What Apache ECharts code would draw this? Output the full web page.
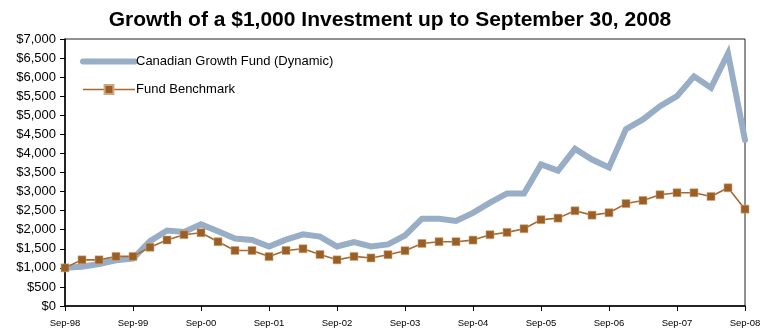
<!DOCTYPE html>
<html>
<head>
<meta charset="utf-8">
<script src="https://cdn.jsdelivr.net/npm/echarts@6/dist/echarts.min.js"></script>
<style>
  html, body { margin: 0; padding: 0; background: #fff; }
  #chart { width: 780px; height: 332px; }
</style>
</head>
<body>
<div id="chart"></div>
<script>
// Quarter-end dates, Sep 1998 through Sep 2008
const quarters = [
  'Sep-98','Dec-98','Mar-99','Jun-99',
  'Sep-99','Dec-99','Mar-00','Jun-00',
  'Sep-00','Dec-00','Mar-01','Jun-01',
  'Sep-01','Dec-01','Mar-02','Jun-02',
  'Sep-02','Dec-02','Mar-03','Jun-03',
  'Sep-03','Dec-03','Mar-04','Jun-04',
  'Sep-04','Dec-04','Mar-05','Jun-05',
  'Sep-05','Dec-05','Mar-06','Jun-06',
  'Sep-06','Dec-06','Mar-07','Jun-07',
  'Sep-07','Dec-07','Mar-08','Jun-08',
  'Sep-08'
];

// Value of $1,000 invested, by quarter
const fundValues = [
  1000, 1030, 1100, 1200, 1240, 1700, 1980, 1940, 2140, 1960,
  1770, 1730, 1560, 1740, 1880, 1820, 1560, 1675, 1560, 1615,
  1850, 2290, 2290, 2230, 2440, 2710, 2950, 2950, 3710, 3550,
  4120, 3840, 3630, 4640, 4890, 5240, 5500, 6020, 5720, 6620,
  4350
];

const benchmarkValues = [
  1000, 1210, 1210, 1300, 1300, 1540, 1730, 1870, 1920, 1685,
  1455, 1455, 1295, 1455, 1500, 1350, 1210, 1300, 1260, 1345,
  1450, 1640, 1686, 1686, 1728, 1869, 1930, 2026, 2262, 2304,
  2497, 2382, 2445, 2685, 2767, 2916, 2969, 2969, 2872, 3099,
  2539
];

const seriesNames = ['Canadian Growth Fund (Dynamic)', 'Fund Benchmark'];
const titleText = 'Growth of a $1,000 Investment up to September 30, 2008';

const FONT = '"Liberation Sans", Arial, sans-serif';
const FUND_COLOR = '#98AEC6';
const BENCH_LINE = '#A8692E';
const BENCH_MARK = '#9B5F25';

const chart = echarts.init(document.getElementById('chart'), null, { renderer: 'canvas' });

chart.setOption({
  animation: false,
  backgroundColor: '#ffffff',
  title: {
    text: titleText,
    left: 'center',
    top: 5,
    textStyle: { fontFamily: FONT, fontSize: 21, fontWeight: 'bold', color: '#000' }
  },
  legend: {
    orient: 'vertical',
    left: 75,
    top: 50,
    itemWidth: 52,
    itemHeight: 11,
    itemGap: 15,
    data: [
      {
        name: seriesNames[0],
        itemStyle: { opacity: 0 },
        lineStyle: { color: FUND_COLOR, width: 6, cap: 'round' }
      },
      {
        name: seriesNames[1],
        lineStyle: { color: BENCH_LINE, width: 1.6 }
      }
    ],
    textStyle: { fontFamily: FONT, fontSize: 13, color: '#000', padding: [0, 0, 0, -4] }
  },
  grid: {
    left: 65,
    right: 35,
    top: 39,
    bottom: 26,
    show: true,
    borderColor: '#222',
    borderWidth: 1,
    backgroundColor: 'transparent'
  },
  xAxis: {
    type: 'category',
    data: quarters,
    boundaryGap: false,
    axisLine: { lineStyle: { color: '#000', width: 1.5 } },
    axisTick: { interval: 3, length: 5, lineStyle: { color: '#000' } },
    axisLabel: {
      interval: 3,
      margin: 12,
      fontFamily: FONT,
      fontSize: 9.5,
      color: '#000'
    },
    splitLine: { show: false }
  },
  yAxis: {
    type: 'value',
    min: 0,
    max: 7000,
    interval: 500,
    axisLine: { show: true, lineStyle: { color: '#000', width: 1.5 } },
    axisTick: { show: true, length: 5, lineStyle: { color: '#000' } },
    axisLabel: {
      margin: 9,
      fontFamily: FONT,
      fontSize: 13,
      color: '#000',
      formatter: v => '$' + v.toLocaleString('en-US')
    },
    splitLine: { show: false }
  },
  series: [
    {
      name: seriesNames[0],
      type: 'line',
      data: fundValues,
      showSymbol: false,
      symbol: 'none',
      lineStyle: { color: FUND_COLOR, width: 6, cap: 'round', join: 'miter' },
      itemStyle: { color: FUND_COLOR },
      z: 2
    },
    {
      name: seriesNames[1],
      type: 'line',
      data: benchmarkValues,
      symbol: 'rect',
      symbolSize: 8,
      lineStyle: { color: BENCH_LINE, width: 1.6 },
      itemStyle: { color: BENCH_MARK, borderColor: '#C9A77F', borderWidth: 0.6 },
      z: 3
    }
  ]
});
</script>
</body>
</html>
